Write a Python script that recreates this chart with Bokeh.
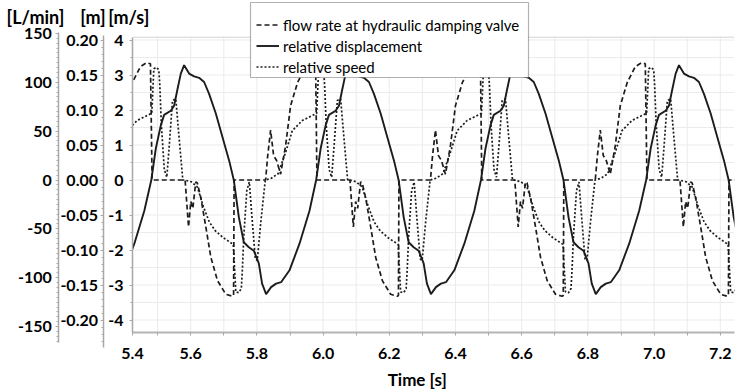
from bokeh.plotting import figure
from bokeh.models import (Range1d, LinearAxis, FixedTicker, SingleIntervalTicker,
                          PrintfTickFormatter, Label, Legend, LegendItem, BoxAnnotation)
from bokeh.embed import file_html
from bokeh.resources import INLINE

# ---------------- data ----------------
# start of each cycle (upward zero crossing of the displacement), s
CYCLE_STARTS = [4.982, 5.481, 5.979, 6.477, 6.976]
T_KEEP_FROM = 5.30   # points before this lie far outside the plotted span

# relative displacement over one cycle: time offset [s] / value [m]
DISP_DT = [0.0000, 0.0136, 0.0287, 0.0387, 0.0589, 0.0689, 0.0792, 0.0891, 0.0991,
           0.1142, 0.1293, 0.1444, 0.1595, 0.1746, 0.1949, 0.2151, 0.2350, 0.2492,
           0.2644, 0.2795, 0.2946, 0.3097, 0.3248, 0.3347, 0.3468, 0.3619, 0.3770,
           0.3921, 0.4175, 0.4477, 0.4779]
DISP_M = [0.000, 0.045, 0.078, 0.093, 0.099, 0.106, 0.130, 0.152, 0.164,
          0.152, 0.148, 0.146, 0.140, 0.123, 0.095, 0.061, 0.028, 0.000,
          -0.053, -0.089, -0.096, -0.101, -0.119, -0.148, -0.163, -0.153, -0.148,
          -0.146, -0.129, -0.091, -0.044]

# flow rate at hydraulic damping valve over one cycle: offset [s] / value [L/min]
FLOW_DT = [0.0024, 0.1021, 0.1124, 0.1193, 0.1254, 0.1344, 0.1390, 0.1495, 0.1647,
           0.1798, 0.2000, 0.2251, 0.2453, 0.2486, 0.2502, 0.3453, 0.3514, 0.3604,
           0.3695, 0.3785, 0.3906, 0.4057, 0.4208, 0.4420, 0.4662, 0.4843, 0.4964]
FLOW_LPM = [0, 0, -48, -22, -29, -2, -3, -18, -48,
            -79, -103, -117, -119, -118, 0, 0, 24, 51,
            25, 20, 6, 35, 76, 100, 116, 120, 119]

# relative speed over one cycle: offset [s] / value [m/s]
SPEED_DT = [0.0015, 0.0076, 0.0151, 0.0227, 0.0257, 0.0302, 0.0393, 0.0468, 0.0544,
            0.0640, 0.0740, 0.0831, 0.0952, 0.0997, 0.1208, 0.1390, 0.1571, 0.1752,
            0.1934, 0.2175, 0.2477, 0.2553, 0.2644, 0.2719, 0.2749, 0.2795, 0.2885,
            0.2961, 0.3036, 0.3142, 0.3202, 0.3308, 0.3444, 0.3625, 0.3831, 0.4057,
            0.4260, 0.4562, 0.4964]
SPEED_MS = [1.90, 3.18, 3.22, 3.15, 2.70, 1.60, 0.30, 0.08, 1.00,
            2.27, 2.32, 1.30, 0.00, 0.00, -0.05, -0.20, -0.75, -1.20,
            -1.45, -1.65, -1.84, -3.20, -3.22, -3.10, -2.60, -1.60, -0.30,
            -0.06, -1.00, -2.25, -2.30, -1.20, 0.00, 0.05, 0.18, 0.79,
            1.41, 1.70, 1.89]

X_START, X_END = 5.4242, 7.2429          # visible time span of the plot area [s]
X_TICKS = [X_START, 5.6, 5.8, 6.0, 6.2, 6.4, 6.6, 6.8, 7.0, 7.2]   # first one is labelled "5.4"
X_MINOR = [5.5, 5.7, 5.9, 6.1, 6.3, 6.5, 6.7, 6.9, 7.1]
X_GRID = [5.5, 5.6, 5.7, 5.8, 5.9, 6.0, 6.1, 6.2, 6.3, 6.4, 6.5, 6.6, 6.7, 6.8,
          6.9, 7.0, 7.1, 7.2]
Y_GRID = [-4.0, -3.5, -3.0, -2.5, -2.0, -1.5, -1.0, -0.5, 0.0, 0.5, 1.0, 1.5,
          2.0, 2.5, 3.0, 3.5, 4.0]
SPEED_SPAN = (-4.349, 4.08)     # m/s axis extent
DISP_SPAN = (-0.2389, 0.2064)   # m axis extent
FLOW_SPAN = (-166.3, 150.5)     # L/min axis extent

LEGEND = ["flow rate at hydraulic damping valve", "relative displacement", "relative speed"]
UNITS = ["[L/min]", "[m]", "[m/s]"]


def tile(dt, vals):
    t, v = [], []
    for s in CYCLE_STARTS:
        for d, y in zip(dt, vals):
            if s + d >= T_KEEP_FROM:
                t.append(s + d)
                v.append(y)
    return t, v


# ---------------- geometry (canvas pixels) ----------------
W, H = 737, 390
PX_PER_S = 331.0
X_LO = 5.4 - 124 / PX_PER_S
X_HI = X_LO + W / PX_PER_S
ZERO_PY = 179.5
PX_PER_MS, PX_PER_M, PX_PER_LPM = 35.0, 700.0, 0.977


def tx(px):
    return X_LO + px / PX_PER_S


FONT = "Lato"
LINE = "#1c1c1c"
AXIS = "#a8a8a8"
GRID = "#ebebeb"

p = figure(width=W, height=H, output_backend="svg", toolbar_location=None,
           x_axis_location=None, y_axis_location=None,
           x_range=Range1d(X_LO, X_HI),
           y_range=Range1d(-(H - ZERO_PY) / PX_PER_MS, ZERO_PY / PX_PER_MS),
           min_border_left=0, min_border_right=0, min_border_top=0, min_border_bottom=0)
p.outline_line_color = None
p.background_fill_color = "white"
p.border_fill_color = "white"
for g in p.grid:
    g.visible = False
p.extra_y_ranges = {
    "disp": Range1d(-(H - ZERO_PY) / PX_PER_M, ZERO_PY / PX_PER_M),
    "flow": Range1d(-(H - ZERO_PY) / PX_PER_LPM, ZERO_PY / PX_PER_LPM),
}


def style_axis(ax, tick_out=3, standoff=6, minor_out=2):
    ax.axis_line_color = AXIS
    ax.axis_line_width = 1.5
    ax.major_tick_line_color = AXIS
    ax.minor_tick_line_color = AXIS
    ax.major_tick_in = 0
    ax.minor_tick_in = 0
    ax.major_tick_out = tick_out
    ax.minor_tick_out = minor_out
    ax.major_label_standoff = standoff
    ax.major_label_text_font = FONT
    ax.major_label_text_font_style = "bold"
    ax.major_label_text_font_size = "16px"
    ax.major_label_text_color = "black"


# grid lines and top border of the plot area
n = len(X_GRID)
p.segment(x0=X_GRID, y0=[SPEED_SPAN[0]] * n, x1=X_GRID, y1=[SPEED_SPAN[1]] * n,
          line_color=GRID, line_width=1)
m = len(Y_GRID)
p.segment(x0=[X_START] * m, y0=Y_GRID, x1=[X_END] * m, y1=Y_GRID,
          line_color=GRID, line_width=1)
p.segment(x0=[X_START], y0=[SPEED_SPAN[1]], x1=[X_END], y1=[SPEED_SPAN[1]],
          line_color="#d4d4d4", line_width=1)

# series
ft, fv = tile(FLOW_DT, FLOW_LPM)
dt_, dv = tile(DISP_DT, DISP_M)
st, sv = tile(SPEED_DT, SPEED_MS)

r_flow = p.line(ft, fv, y_range_name="flow", line_color=LINE, line_width=1.7, line_dash="5 3")
r_disp = p.line(dt_, dv, y_range_name="disp", line_color=LINE, line_width=1.9)
r_speed = p.line(st, sv, line_color=LINE, line_width=1.7, line_dash="2 2")

# white masks outside the plot area (below the axes)
p.add_layout(BoxAnnotation(right=X_START, fill_color="white", fill_alpha=1.0,
                           line_color=None, level="glyph"))
p.add_layout(BoxAnnotation(left=X_END, fill_color="white", fill_alpha=1.0,
                           line_color=None, level="glyph"))

# x axis
xa = LinearAxis(fixed_location=SPEED_SPAN[0], bounds=(X_START, X_END))
xa.ticker = FixedTicker(ticks=X_TICKS, minor_ticks=X_MINOR)
xa.formatter = PrintfTickFormatter(format="%.1f")
style_axis(xa, tick_out=3, standoff=13, minor_out=3)
xa.axis_line_width = 2
xa.axis_line_color = "#b4b4b4"
p.add_layout(xa, "below")

# m/s axis
ya = LinearAxis(fixed_location=X_START, bounds=SPEED_SPAN)
ya.ticker = SingleIntervalTicker(interval=1, num_minor_ticks=2)
ya.formatter = PrintfTickFormatter(format="%d")
style_axis(ya, 3, 6)
p.add_layout(ya, "left")

# m axis
ma = LinearAxis(y_range_name="disp", fixed_location=tx(102.5), bounds=DISP_SPAN)
ma.ticker = SingleIntervalTicker(interval=0.05, num_minor_ticks=5)
ma.formatter = PrintfTickFormatter(format="%.2f")
style_axis(ma, 3, 2)
p.add_layout(ma, "left")

# L/min axis
fa = LinearAxis(y_range_name="flow", fixed_location=tx(58.3), bounds=FLOW_SPAN)
fa.ticker = SingleIntervalTicker(interval=50, num_minor_ticks=10)
fa.formatter = PrintfTickFormatter(format="%d")
style_axis(fa, 3, 4)
p.add_layout(fa, "left")

# legend box + legend
p.add_layout(BoxAnnotation(left=250, right=528, top=H - 2, bottom=H - 77,
                           left_units="screen", right_units="screen",
                           top_units="screen", bottom_units="screen",
                           fill_color="white", fill_alpha=1.0,
                           line_color="black", line_width=1.2))
legend = Legend(items=[LegendItem(label=LEGEND[0], renderers=[r_flow]),
                       LegendItem(label=LEGEND[1], renderers=[r_disp]),
                       LegendItem(label=LEGEND[2], renderers=[r_speed])],
                location=(256, H - 77), margin=0, padding=6, spacing=0,
                label_height=21, glyph_height=21, glyph_width=23, label_standoff=4,
                border_line_color=None, background_fill_alpha=0.0,
                label_text_font=FONT, label_text_font_size="15px", label_text_color="black")
p.add_layout(legend)

# unit titles above the axes and the time title below
for txt, cx in zip(UNITS, [35, 92.5, 128.3]):
    p.add_layout(Label(x=cx, y=H - 16, x_units="screen", y_units="screen", text=txt,
                       text_align="center", text_baseline="middle",
                       text_font=FONT, text_font_style="bold",
                       text_font_size="18px", text_color="black"))
p.add_layout(Label(x=416.7, y=H - 379, x_units="screen", y_units="screen", text="Time [s]",
                   text_align="center", text_baseline="middle",
                   text_font=FONT, text_font_style="bold",
                   text_font_size="17px", text_color="black"))

open("out.html", "w").write(file_html(p, INLINE))
